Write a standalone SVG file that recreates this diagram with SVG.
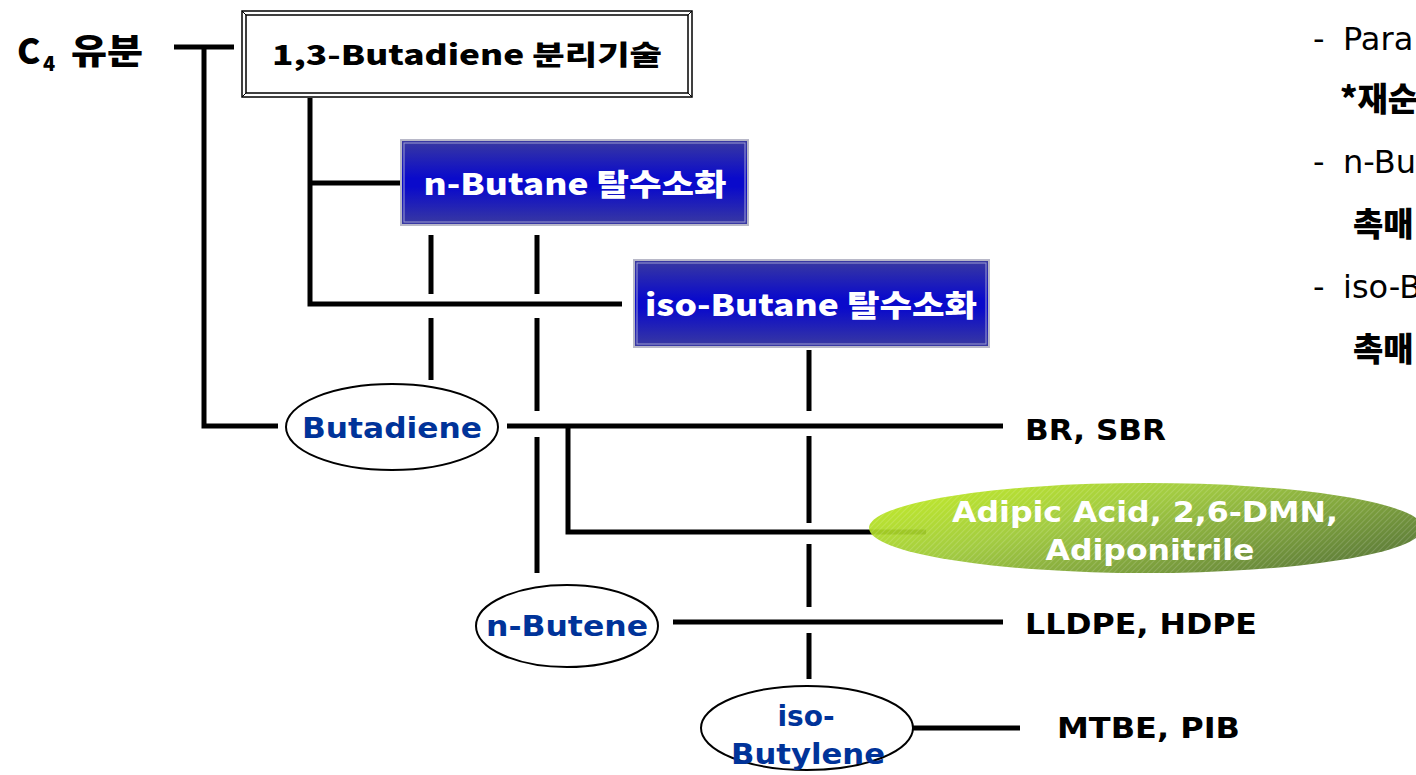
<svg xmlns="http://www.w3.org/2000/svg" width="1416" height="775" viewBox="0 0 1416 775">
  <defs>
    <linearGradient id="blueFill" x1="0" y1="0" x2="0" y2="1">
      <stop offset="0" stop-color="#3a3aa0"/>
      <stop offset="0.45" stop-color="#0a0acb"/>
      <stop offset="0.55" stop-color="#0a0acb"/>
      <stop offset="1" stop-color="#3a3aa0"/>
    </linearGradient>
    <linearGradient id="greenFill" x1="0" y1="0" x2="1" y2="0.6">
      <stop offset="0" stop-color="#c4f015"/>
      <stop offset="0.45" stop-color="#9cc834"/>
      <stop offset="1" stop-color="#587a2c"/>
    </linearGradient>
    <pattern id="weave" width="4" height="4" patternUnits="userSpaceOnUse" patternTransform="rotate(45)">
      <rect width="4" height="4" fill="none"/>
      <line x1="0" y1="0" x2="0" y2="4" stroke="#ffffff" stroke-opacity="0.2" stroke-width="1.5"/>
    </pattern>
    <style>
      .wire { stroke: #000; stroke-width: 5; fill: none; stroke-linecap: butt; }
      .bold { font-family: "DejaVu Sans", Verdana, "Noto Sans CJK KR", sans-serif; font-weight: bold; }
      .head { font-family: "Noto Sans CJK KR", "Noto Sans", sans-serif; font-weight: 900; }
      .chem { fill: #003399; font-size: 28px; text-anchor: middle; }
      .prod { fill: #000; font-size: 28px; }
      .white { fill: #fff; }
      .oval { fill: #fff; stroke: #000; stroke-width: 2; }
      .note { font-family: "DejaVu Sans", "Noto Sans CJK KR", sans-serif; font-size: 32px; fill: #000; }
      .noteK { font-family: "Noto Sans CJK KR", sans-serif; font-size: 33px; font-weight: 900; fill: #000; }
    </style>
  </defs>
  <rect width="1416" height="775" fill="#fff"/>

  <!-- connectors -->
  <g id="connectors">
    <path class="wire" d="M174 47 H234"/>
    <path class="wire" d="M204 47 V426 H278"/>
    <path class="wire" d="M310 98 V304 H622"/>
    <path class="wire" d="M310 183 H400"/>
    <path class="wire" d="M431 235 V294 M431 318 V380"/>
    <path class="wire" d="M537 235 V294 M537 318 V411 M537 437 V573"/>
    <path class="wire" d="M809 350 V411 M809 436 V523 M809 544 V607 M809 633 V679"/>
    <path class="wire" d="M507 426 H1003"/>
    <path class="wire" d="M568 426 V532 H926"/>
    <path class="wire" d="M673 622 H1003"/>
    <path class="wire" d="M913 728 H1020"/>
  </g>

  <!-- source label -->
  <g id="c4">
    <text class="head" x="17" y="64" font-size="35">C</text>
    <text class="head" x="43" y="71" font-size="20">4</text>
    <text class="head" x="71" y="64" font-size="35" textLength="72" lengthAdjust="spacingAndGlyphs">유분</text>
  </g>

  <!-- separation box -->
  <g id="separation">
    <rect x="242" y="11" width="450" height="86" fill="#fff" stroke="#000" stroke-width="1.5"/>
    <rect x="246" y="15" width="442" height="78" fill="none" stroke="#000" stroke-width="1.5"/>
    <path d="M242 11 L246 15 M692 11 L688 15 M242 97 L246 93 M692 97 L688 93" stroke="#000" stroke-width="1"/>
    <text class="head" x="467" y="65" font-size="27" text-anchor="middle" textLength="390" lengthAdjust="spacingAndGlyphs">1,3-Butadiene 분리기술</text>
  </g>

  <!-- dehydrogenation boxes -->
  <g id="nbutane-dh">
    <rect x="401" y="140" width="347" height="85" fill="url(#blueFill)" stroke="#b8b8c8" stroke-width="2"/>
    <rect x="404" y="143" width="341" height="79" fill="none" stroke="#9a9ad0" stroke-width="1"/>
    <text class="head white" x="575" y="195" font-size="30" text-anchor="middle" textLength="303" lengthAdjust="spacingAndGlyphs">n-Butane 탈수소화</text>
  </g>
  <g id="isobutane-dh">
    <rect x="634" y="260" width="355" height="87" fill="url(#blueFill)" stroke="#b8b8c8" stroke-width="2"/>
    <rect x="637" y="263" width="349" height="81" fill="none" stroke="#9a9ad0" stroke-width="1"/>
    <text class="head white" x="811" y="316" font-size="30" text-anchor="middle" textLength="332" lengthAdjust="spacingAndGlyphs">iso-Butane 탈수소화</text>
  </g>

  <!-- intermediates -->
  <g id="butadiene">
    <ellipse class="oval" cx="392" cy="427" rx="106" ry="43"/>
    <text class="bold chem" x="392" y="438" font-size="29" textLength="180" lengthAdjust="spacingAndGlyphs">Butadiene</text>
  </g>
  <g id="nbutene">
    <ellipse class="oval" cx="567" cy="626" rx="91" ry="41"/>
    <text class="bold chem" x="567" y="636" font-size="29" textLength="162" lengthAdjust="spacingAndGlyphs">n-Butene</text>
  </g>
  <g id="isobutylene">
    <ellipse class="oval" cx="807" cy="728" rx="106" ry="42"/>
    <text class="bold chem" x="806" y="726" font-size="29">iso-</text>
    <text class="bold chem" x="808" y="764" font-size="29" textLength="154" lengthAdjust="spacingAndGlyphs">Butylene</text>
  </g>

  <!-- products -->
  <g id="br-sbr"><text class="bold prod" x="1025" y="440" textLength="141" lengthAdjust="spacingAndGlyphs">BR, SBR</text></g>
  <g id="adipic">
    <ellipse cx="1146" cy="528" rx="277" ry="45" fill="url(#greenFill)" fill-opacity="0.93"/>
    <ellipse cx="1146" cy="528" rx="277" ry="45" fill="url(#weave)"/>
    <text class="bold white" x="1145" y="522" font-size="28" text-anchor="middle" textLength="386" lengthAdjust="spacingAndGlyphs">Adipic Acid, 2,6-DMN,</text>
    <text class="bold white" x="1150" y="560" font-size="28" text-anchor="middle" textLength="209" lengthAdjust="spacingAndGlyphs">Adiponitrile</text>
  </g>
  <g id="lldpe"><text class="bold prod" x="1025" y="634" textLength="232" lengthAdjust="spacingAndGlyphs">LLDPE, HDPE</text></g>
  <g id="mtbe"><text class="bold prod" x="1057" y="738" textLength="183" lengthAdjust="spacingAndGlyphs">MTBE, PIB</text></g>

  <!-- side notes -->
  <g id="notes">
    <text class="note" x="1313" y="50">-<tspan x="1343">Para</tspan></text>
    <text class="noteK" x="1340" y="111">*재순</text>
    <text class="note" x="1313" y="173">-<tspan x="1343">n-Bu</tspan></text>
    <text class="noteK" x="1353" y="236">촉매</text>
    <text class="note" x="1313" y="298">-<tspan x="1343">iso-B</tspan></text>
    <text class="noteK" x="1353" y="361">촉매</text>
  </g>
</svg>
